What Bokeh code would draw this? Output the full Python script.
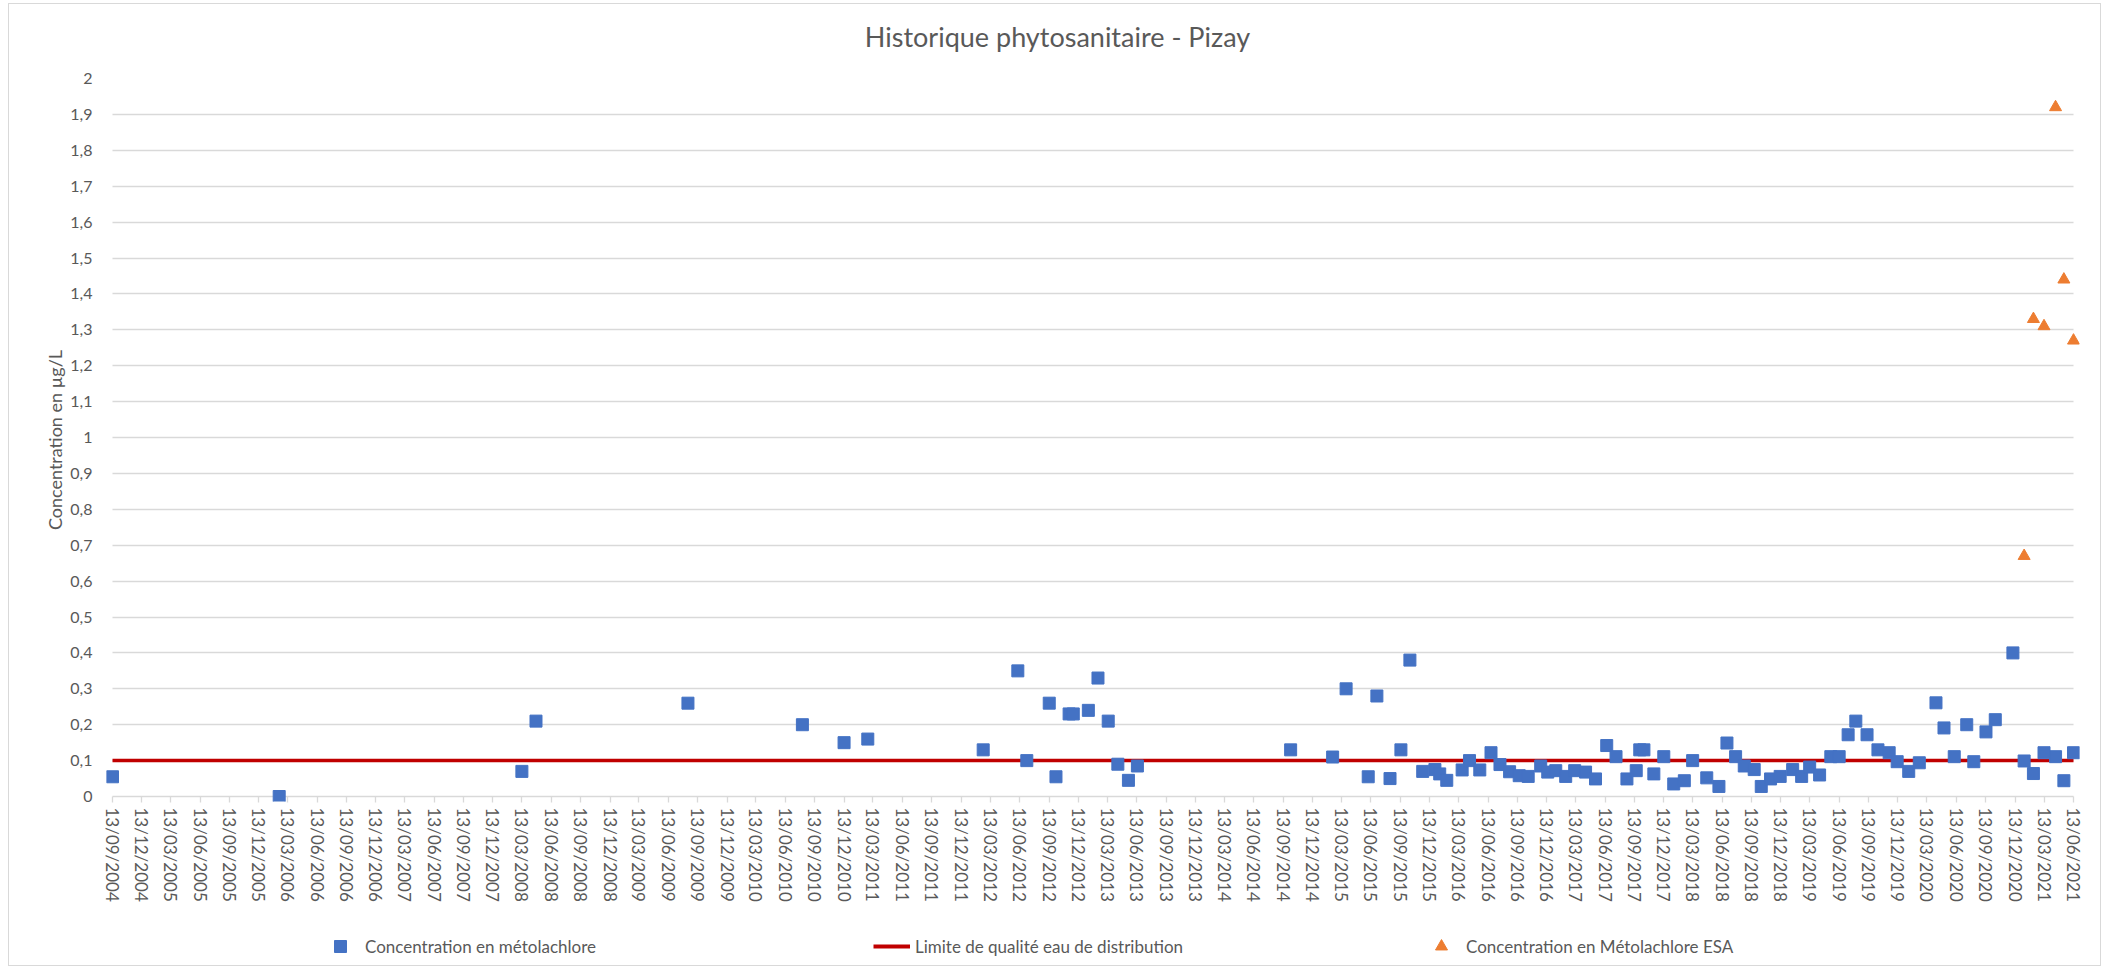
import pandas as pd
from bokeh.plotting import figure
from bokeh.layouts import column
from bokeh.models import (ColumnDataSource, Range1d, FixedTicker, DatetimeTickFormatter,
                          Legend, LegendItem, Label)
from bokeh.embed import file_html
from bokeh.resources import INLINE

# ---------------- data ----------------
meto_dates = [
    "2004-09-13", "2006-02-15", "2008-03-13", "2008-04-26", "2009-08-13",
    "2010-08-05", "2010-12-13", "2011-02-25", "2012-02-20", "2012-06-07",
    "2012-07-05", "2012-09-13", "2012-10-04", "2012-11-14", "2012-11-27",
    "2013-01-13", "2013-02-12", "2013-03-16", "2013-04-15", "2013-05-18",
    "2013-06-15", "2014-10-06", "2015-02-14", "2015-03-28", "2015-06-05",
    "2015-07-02", "2015-08-12", "2015-09-15", "2015-10-13", "2015-11-22",
    "2015-12-30", "2016-01-14", "2016-02-05", "2016-03-24", "2016-04-16",
    "2016-05-18", "2016-06-22", "2016-07-20", "2016-08-19", "2016-09-18",
    "2016-10-16", "2016-11-24", "2016-12-16", "2017-01-10", "2017-02-10",
    "2017-03-10", "2017-04-13", "2017-05-14", "2017-06-18", "2017-07-17",
    "2017-08-20", "2017-09-18", "2017-09-29", "2017-10-12", "2017-11-12",
    "2017-12-13", "2018-01-13", "2018-02-15", "2018-03-13", "2018-04-26",
    "2018-06-03", "2018-06-28", "2018-07-25", "2018-08-21", "2018-09-21",
    "2018-10-13", "2018-11-11", "2018-12-11", "2019-01-19", "2019-02-16",
    "2019-03-13", "2019-04-13", "2019-05-18", "2019-06-13", "2019-07-11",
    "2019-08-04", "2019-09-08", "2019-10-12", "2019-11-16", "2019-12-11",
    "2020-01-16", "2020-02-18", "2020-04-10", "2020-05-05", "2020-06-06",
    "2020-07-15", "2020-08-06", "2020-09-13", "2020-10-12", "2020-12-06",
    "2021-01-10", "2021-02-08", "2021-03-13", "2021-04-18", "2021-05-14",
    "2021-06-13",
]
meto_values = [
    0.055, 0.0, 0.07, 0.21, 0.26,
    0.20, 0.15, 0.16, 0.13, 0.35,
    0.10, 0.26, 0.055, 0.23, 0.23,
    0.24, 0.33, 0.21, 0.09, 0.045,
    0.085, 0.13, 0.11, 0.30, 0.055,
    0.28, 0.05, 0.13, 0.38, 0.07,
    0.075, 0.063, 0.045, 0.074, 0.10,
    0.074, 0.122, 0.089, 0.069, 0.058,
    0.056, 0.085, 0.068, 0.072, 0.056,
    0.072, 0.068, 0.049, 0.142, 0.111,
    0.049, 0.072, 0.13, 0.13, 0.063,
    0.111, 0.035, 0.044, 0.10, 0.052,
    0.028, 0.149, 0.111, 0.085, 0.075,
    0.028, 0.049, 0.056, 0.075, 0.056,
    0.082, 0.060, 0.111, 0.111, 0.172,
    0.21, 0.172, 0.13, 0.122, 0.097,
    0.070, 0.094, 0.261, 0.191, 0.111,
    0.20, 0.097, 0.18, 0.214, 0.40,
    0.099, 0.064, 0.122, 0.111, 0.044,
    0.122,
]

esa_dates = ["2021-01-10", "2021-02-08", "2021-03-13", "2021-04-18", "2021-05-14", "2021-06-13"]
esa_values = [0.67, 1.33, 1.31, 1.92, 1.44, 1.27]

limite_dates = ["2004-09-13", "2021-06-13"]
limite_values = [0.1, 0.1]

x_start = "2004-09-13"
x_end = "2021-06-13"
y_ticks = [round(i / 10, 1) for i in range(0, 21)]
y_tick_labels = [("%g" % t).replace(".", ",") for t in y_ticks]

title_text = "Historique phytosanitaire - Pizay"
y_label = "Concentration en µg/L"
label_meto = "Concentration en métolachlore"
label_limite = "Limite de qualité eau de distribution"
label_esa = "Concentration en Métolachlore ESA"

# ---------------- styling ----------------
FONT = "Lato"
GREY = "#595959"
GRID = "#D9D9D9"
BLUE = "#4472C4"
ORANGE = "#ED7D31"
RED = "#C00000"

W = 2091
H_TITLE = 62
H_MAIN = 838
H_LEG = 61
FRAME_LEFT = 97           # frame left edge (aligned across the column)
PLOT_W_PX = 1961          # pixel width between first and last date tick
PAD_X = 6                 # small pixel padding so edge markers are not clipped
PAD_Y = 5
PX_PER_UNIT = 360.0


def ms(d):
    return pd.Timestamp(d).timestamp() * 1000.0


def strip(height):
    f = figure(width=W, height=height, output_backend="svg", toolbar_location=None,
               x_range=Range1d(0, 1), y_range=Range1d(0, 1), min_border=0)
    f.axis.visible = False
    f.grid.visible = False
    f.title.visible = False
    f.outline_line_color = None
    f.background_fill_color = "white"
    f.border_fill_color = "white"
    return f


tick_dates = pd.date_range(x_start, x_end, freq=pd.DateOffset(months=3))
x_ticks = [t.timestamp() * 1000.0 for t in tick_dates]
ms_per_px = (ms(x_end) - ms(x_start)) / PLOT_W_PX

src_meto = ColumnDataSource(dict(x=pd.to_datetime(meto_dates), y=meto_values))
src_esa = ColumnDataSource(dict(x=pd.to_datetime(esa_dates), y=esa_values))
src_lim = ColumnDataSource(dict(x=pd.to_datetime(limite_dates), y=limite_values))

# ---------------- title strip ----------------
pt = strip(H_TITLE)
pt.add_layout(Label(x=1048 - FRAME_LEFT, y=H_TITLE - 32, x_units="screen", y_units="screen",
                    text=title_text, text_align="center", text_baseline="middle",
                    text_font=FONT, text_font_size="27px", text_color=GREY))

# ---------------- main plot ----------------
p = figure(width=W, height=H_MAIN, x_axis_type="datetime",
           output_backend="svg", toolbar_location=None,
           x_range=Range1d(ms(x_start) - PAD_X * ms_per_px, ms(x_end) + PAD_X * ms_per_px),
           y_range=Range1d(-PAD_Y / PX_PER_UNIT, 2),
           min_border_left=FRAME_LEFT, min_border_right=W - FRAME_LEFT - PLOT_W_PX - 2 * PAD_X,
           min_border_top=74 - H_TITLE, min_border_bottom=H_MAIN - (794 - H_TITLE) - PAD_Y)
p.title.visible = False
p.background_fill_color = "white"
p.border_fill_color = "white"
p.outline_line_color = None

# grids
p.xgrid.grid_line_color = None
p.ygrid.grid_line_color = GRID
p.ygrid.grid_line_width = 1.3
if "cross_bounds" in p.ygrid[0].properties():
    p.ygrid.cross_bounds = (ms(x_start), ms(x_end))

# y axis
p.yaxis.ticker = FixedTicker(ticks=y_ticks)
p.yaxis.major_label_overrides = {t: l for t, l in zip(y_ticks, y_tick_labels)}
p.yaxis.axis_line_color = None
p.yaxis.major_tick_line_color = None
p.yaxis.minor_tick_line_color = None
p.yaxis.major_label_text_font = FONT
p.yaxis.major_label_text_font_size = "16px"
p.yaxis.major_label_text_color = GREY
p.yaxis.major_label_standoff = 14 - PAD_X
p.yaxis.axis_label = y_label
p.yaxis.axis_label_text_font = FONT
p.yaxis.axis_label_text_font_size = "18px"
p.yaxis.axis_label_text_font_style = "normal"
p.yaxis.axis_label_text_color = GREY
p.yaxis.axis_label_standoff = 1

# x axis (the grid line at 0 serves as the axis line)
p.xaxis.ticker = FixedTicker(ticks=x_ticks)
fmt = "%d/%m/%Y"
p.xaxis.formatter = DatetimeTickFormatter(
    microseconds=fmt, milliseconds=fmt, seconds=fmt, minsec=fmt, minutes=fmt,
    hourmin=fmt, hours=fmt, days=fmt, months=fmt, years=fmt)
p.xaxis.major_label_orientation = "vertical"
p.xaxis.axis_line_color = None
p.xaxis.major_tick_line_color = GRID
p.xaxis.major_tick_line_width = 1.3
p.xaxis.major_tick_in = PAD_Y
p.xaxis.major_tick_out = 1
p.xaxis.minor_tick_line_color = None
p.xaxis.major_label_text_font = FONT
p.xaxis.major_label_text_font_size = "17px"
p.xaxis.major_label_text_color = GREY
p.xaxis.major_label_standoff = 5

# glyphs
p.line("x", "y", source=src_lim, line_color=RED, line_width=3.5)
p.scatter("x", "y", source=src_meto, marker="square", size=12,
          fill_color=BLUE, line_color=BLUE)
p.scatter("x", "y", source=src_esa, marker="triangle", size=12,
          fill_color=ORANGE, line_color=ORANGE)

# ---------------- legend strip ----------------
# (the series are re-plotted here only to provide legend glyphs; the dates lie
#  far outside this strip's 0..1 ranges, so nothing is visible in it)
pl = strip(H_LEG)
lg_meto = pl.scatter("x", "y", source=src_meto, marker="square", size=12,
                     fill_color=BLUE, line_color=BLUE)
lg_lim = pl.line("x", "y", source=src_lim, line_color=RED, line_width=4)
lg_esa = pl.scatter("x", "y", source=src_esa, marker="triangle", size=12,
                    fill_color=ORANGE, line_color=ORANGE)


def make_legend(label, rend, x, glyph_w):
    return Legend(items=[LegendItem(label=label, renderers=[rend])],
                  location=(x, 4), orientation="horizontal",
                  padding=0, margin=0, spacing=0,
                  border_line_color=None, background_fill_alpha=0,
                  label_text_font=FONT, label_text_font_size="17px",
                  label_text_color=GREY, glyph_width=glyph_w, glyph_height=30,
                  label_height=30, label_standoff=5)


pl.add_layout(make_legend(label_meto, lg_meto, 311 - FRAME_LEFT, 40))
pl.add_layout(make_legend(label_limite, lg_lim, 864 - FRAME_LEFT, 37))
pl.add_layout(make_legend(label_esa, lg_esa, 1412 - FRAME_LEFT, 40))

layout = column(pt, p, pl, spacing=0)
layout.styles = {"border": "1px solid #D9D9D9", "margin": "3px 0 0 8px"}

open("out.html", "w").write(file_html(layout, INLINE))
